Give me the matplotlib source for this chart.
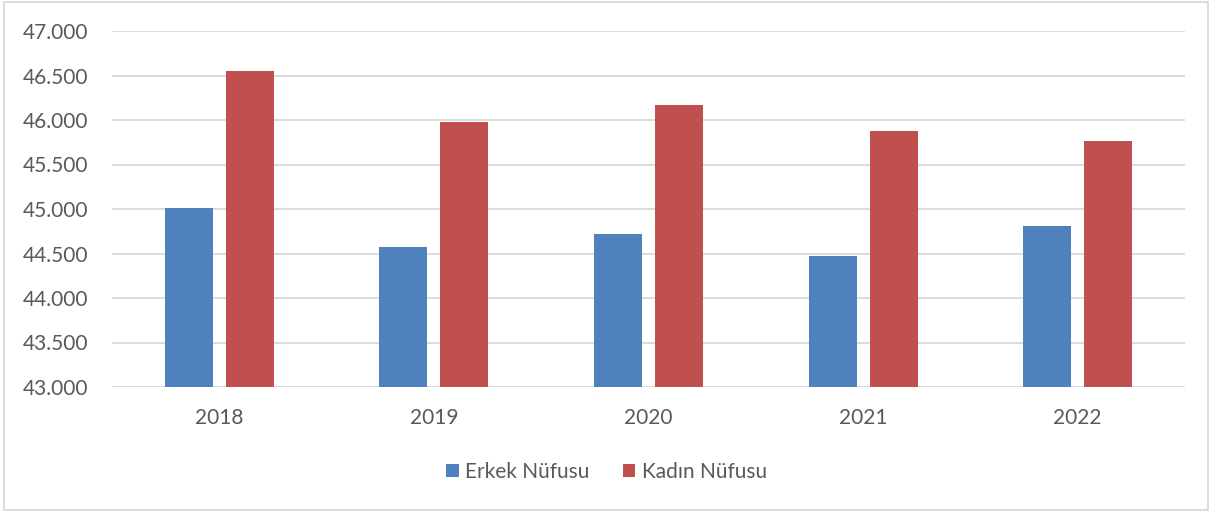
import numpy as np
import matplotlib
matplotlib.use("Agg")
import matplotlib.pyplot as plt
from matplotlib.patches import Rectangle
from matplotlib.ticker import FuncFormatter

years = ["2018", "2019", "2020", "2021", "2022"]
erkek = [45015, 44575, 44720, 44475, 44810]
kadin = [46545, 45980, 46170, 45880, 45765]

plt.rcParams["font.family"] = ["Lato", "DejaVu Sans"]
text_color = "#595959"

fig = plt.figure(figsize=(12.13, 5.12), dpi=100)
ax = fig.add_axes([112 / 1213, 1 - 387 / 512, (1185 - 112) / 1213, (387 - 31) / 512])

x = np.arange(len(years))
w = 0.224
off = 0.142
ax.bar(x - off, erkek, w, color="#4F81BD", label="Erkek Nüfusu", zorder=3)
ax.bar(x + off, kadin, w, color="#C0504D", label="Kadın Nüfusu", zorder=3)

ax.set_ylim(43000, 47000)
ax.set_xlim(-0.5, len(years) - 0.5)
ax.set_yticks(np.arange(43000, 47001, 500))
ax.yaxis.set_major_formatter(FuncFormatter(lambda v, p: f"{v/1000:.3f}"))
ax.set_xticks(x)
ax.set_xticklabels(years)
ax.grid(axis="y", color="#D9D9D9", linewidth=1.3, zorder=0)
for s in ax.spines.values():
    s.set_visible(False)
ax.tick_params(length=0, labelsize=15, colors=text_color)
ax.tick_params(axis="y", pad=17)
ax.tick_params(axis="x", pad=15)

leg = fig.legend(loc="center", bbox_to_anchor=(0.5, 1 - 472 / 512), ncol=2, frameon=False,
                 fontsize=15, handlelength=0.6, handleheight=0.6, handletextpad=0.3,
                 columnspacing=1.6)
for t in leg.get_texts():
    t.set_color(text_color)

fig.patches.append(Rectangle((4 / 1213, 2 / 512), 1204 / 1213, 508 / 512, transform=fig.transFigure,
                             fill=False, edgecolor="#D9D9D9", linewidth=1.3))

fig.savefig("out.png", dpi=100)
